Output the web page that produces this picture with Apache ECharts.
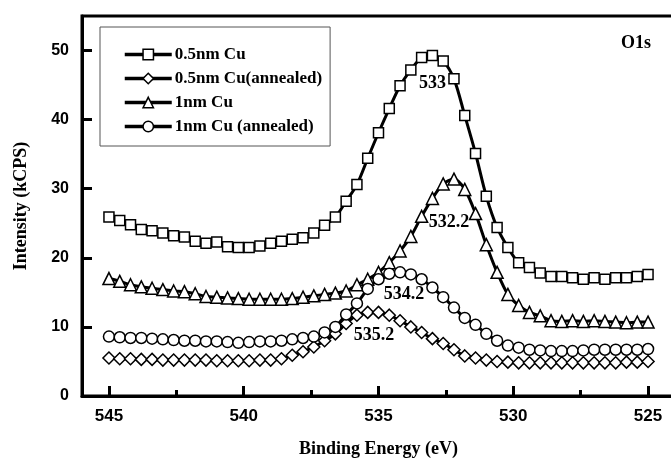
<!DOCTYPE html>
<html>
<head>
<meta charset="utf-8">
<script src="https://cdn.jsdelivr.net/npm/echarts@6/dist/echarts.min.js"></script>
<style>
  html, body { margin: 0; padding: 0; background: #fff; }
  #chart { width: 671px; height: 463px; }
</style>
</head>
<body>
<div id="chart"></div>
<script>
// O1s XPS spectra, binding energy sampled every 0.4 eV from 545 to 525 eV
const energies = [
  545, 544.6, 544.2, 543.8, 543.4, 543, 542.6, 542.2, 541.8, 541.4,
  541, 540.6, 540.2, 539.8, 539.4, 539, 538.6, 538.2, 537.8, 537.4,
  537, 536.6, 536.2, 535.8, 535.4, 535, 534.6, 534.2, 533.8, 533.4,
  533, 532.6, 532.2, 531.8, 531.4, 531, 530.6, 530.2, 529.8, 529.4,
  529, 528.6, 528.2, 527.8, 527.4, 527, 526.6, 526.2, 525.8, 525.4,
  525
];

const cu05 = [
  25.9, 25.4, 24.8, 24.1, 23.9, 23.6, 23.2, 23.0, 22.4, 22.1,
  22.3, 21.6, 21.5, 21.5, 21.7, 22.1, 22.4, 22.7, 22.9, 23.6,
  24.7, 25.9, 28.2, 30.6, 34.4, 38.1, 41.6, 44.9, 47.2, 49.0,
  49.3, 48.5, 45.9, 40.6, 35.1, 28.9, 24.4, 21.5, 19.3, 18.6,
  17.8, 17.3, 17.3, 17.1, 16.9, 17.1, 16.9, 17.1, 17.1, 17.3,
  17.6
];

const cu05Annealed = [
  5.5, 5.4, 5.4, 5.3, 5.3, 5.2, 5.2, 5.2, 5.2, 5.2,
  5.1, 5.1, 5.1, 5.1, 5.2, 5.2, 5.4, 5.9, 6.4, 7.1,
  8.0, 9.0, 10.5, 11.7, 12.1, 12.1, 11.7, 10.9, 10.0, 9.2,
  8.3, 7.6, 6.7, 5.8, 5.5, 5.2, 5.0, 4.9, 4.8, 4.8,
  4.8, 4.8, 4.8, 4.8, 4.8, 4.8, 4.8, 4.8, 4.9, 4.9,
  5.0
];

const cu1 = [
  17.0, 16.6, 16.1, 15.8, 15.6, 15.4, 15.2, 15.1, 14.8, 14.4,
  14.3, 14.2, 14.1, 14.0, 14.0, 14.0, 14.0, 14.1, 14.3, 14.5,
  14.7, 14.9, 15.2, 16.1, 16.9, 17.9, 19.3, 21.0, 23.1, 26.0,
  28.6, 30.7, 31.4, 29.9, 26.4, 21.9, 17.9, 14.7, 13.1, 12.1,
  11.6, 10.9, 10.8, 10.9, 10.8, 10.9, 10.8, 10.7, 10.6, 10.7,
  10.7
];

const cu1Annealed = [
  8.6, 8.5, 8.4, 8.4, 8.3, 8.2, 8.1, 8.0, 8.0, 7.9,
  7.9, 7.8, 7.7, 7.8, 7.9, 7.9, 8.0, 8.2, 8.4, 8.6,
  9.2, 10.0, 11.8, 13.4, 15.5, 16.9, 17.7, 17.9, 17.6, 16.9,
  15.7, 14.3, 12.8, 11.3, 10.3, 9.0, 8.0, 7.3, 7.0, 6.7,
  6.6, 6.5, 6.5, 6.5, 6.6, 6.7, 6.7, 6.7, 6.7, 6.7,
  6.8
];

const seriesNames = ['0.5nm Cu', '0.5nm Cu(annealed)', '1nm Cu', '1nm Cu (annealed)'];
const seriesValues = [cu05, cu05Annealed, cu1, cu1Annealed];
const seriesSymbols = ['rect', 'diamond', 'triangle', 'circle'];
const symbolSizes = [10, 12, 12, 11];
// peak binding energies annotated next to each curve
const peakEnergies = [533, 535.2, 532.2, 534.2];
const peakLabelOffsets = [[0, 28], [1, 23], [-5, 43], [4, 22]];

const majorTicks = [525, 530, 535, 540, 545];
const minorTicks = [527.5, 532.5, 537.5, 542.5];
const yTicks = [0, 10, 20, 30, 40, 50];

const serif = '"Liberation Serif", "Times New Roman", serif';
const sans = '"Liberation Sans", Arial, sans-serif';

const series = seriesNames.map((name, k) => {
  const vals = seriesValues[k];
  const peakVal = Math.max.apply(null, vals);
  return {
    name: name,
    type: 'line',
    xAxisIndex: 0,
    data: energies.map((e, i) => [e, vals[i]]),
    smooth: 0.3,
    symbol: seriesSymbols[k],
    symbolSize: symbolSizes[k],
    showAllSymbol: true,
    lineStyle: { color: '#000', width: 3 },
    itemStyle: { color: '#fff', borderColor: '#000', borderWidth: 1.5 },
    emphasis: { disabled: true },
    markPoint: {
      symbol: 'circle',
      symbolSize: 1,
      itemStyle: { color: 'rgba(0,0,0,0)', borderWidth: 0 },
      label: {
        show: true,
        position: 'inside',
        offset: peakLabelOffsets[k],
        formatter: String(peakEnergies[k]),
        fontFamily: serif,
        fontWeight: 'bold',
        fontSize: 18,
        color: '#000'
      },
      data: [{ coord: [peakEnergies[k], peakVal] }]
    }
  };
});

const chart = echarts.init(document.getElementById('chart'), null, { renderer: 'canvas' });
chart.setOption({
  animation: false,
  backgroundColor: '#fff',
  grid: {
    left: 82, top: 16, right: -4, bottom: 67,
    containLabel: false,
    outerBoundsMode: 'none',
    show: true, borderColor: '#000', borderWidth: 3,
    backgroundColor: 'rgba(0,0,0,0)'
  },
  title: {
    text: 'O1s',
    right: 15, top: 29,
    textStyle: { fontFamily: serif, fontWeight: 'bold', fontSize: 18, color: '#000' }
  },
  legend: {
    orient: 'vertical',
    left: 100, top: 27,
    padding: [19, 8, 11, 23],
    itemWidth: 47, itemHeight: 13, itemGap: 7,
    borderColor: '#555', borderWidth: 1,
    selectedMode: false,
    lineStyle: { color: '#000', width: 3.5 },
    itemStyle: { color: '#fff', borderColor: '#000', borderWidth: 1.5 },
    textStyle: { fontFamily: serif, fontWeight: 'bold', fontSize: 17, lineHeight: 14, color: '#000', padding: [0, 0, 0, -2] },
    data: seriesNames
  },
  xAxis: [{
    type: 'value',
    min: 524, max: 546,
    inverse: true,
    name: 'Binding Energy (eV)',
    nameLocation: 'middle',
    nameGap: 44,
    nameTextStyle: { fontFamily: serif, fontWeight: 'bold', fontSize: 18, color: '#000' },
    axisLine: { show: true, lineStyle: { color: '#000', width: 3 } },
    axisTick: { show: true, inside: true, length: 10, lineStyle: { color: '#000', width: 3 }, customValues: majorTicks },
    axisLabel: { customValues: majorTicks, margin: 12, fontFamily: sans, fontWeight: 'bold', fontSize: 17, color: '#000' },
    splitLine: { show: false }
  }, {
    type: 'value',
    min: 524, max: 546,
    inverse: true,
    position: 'bottom',
    axisLine: { show: false },
    axisTick: { show: true, inside: true, length: 6, lineStyle: { color: '#000', width: 3 }, customValues: minorTicks },
    axisLabel: { show: false },
    splitLine: { show: false }
  }],
  yAxis: {
    type: 'value',
    min: 0, max: 55,
    name: 'Intensity (kCPS)',
    nameLocation: 'middle',
    nameGap: 52,
    nameTextStyle: { fontFamily: serif, fontWeight: 'bold', fontSize: 18, color: '#000' },
    axisLine: { show: true, lineStyle: { color: '#000', width: 3 } },
    axisTick: { show: true, inside: true, length: 10, lineStyle: { color: '#000', width: 3 }, customValues: yTicks },
    axisLabel: { customValues: yTicks, margin: 13, fontFamily: sans, fontWeight: 'bold', fontSize: 16, color: '#000' },
    splitLine: { show: false }
  },
  series: series
});
</script>
</body>
</html>
